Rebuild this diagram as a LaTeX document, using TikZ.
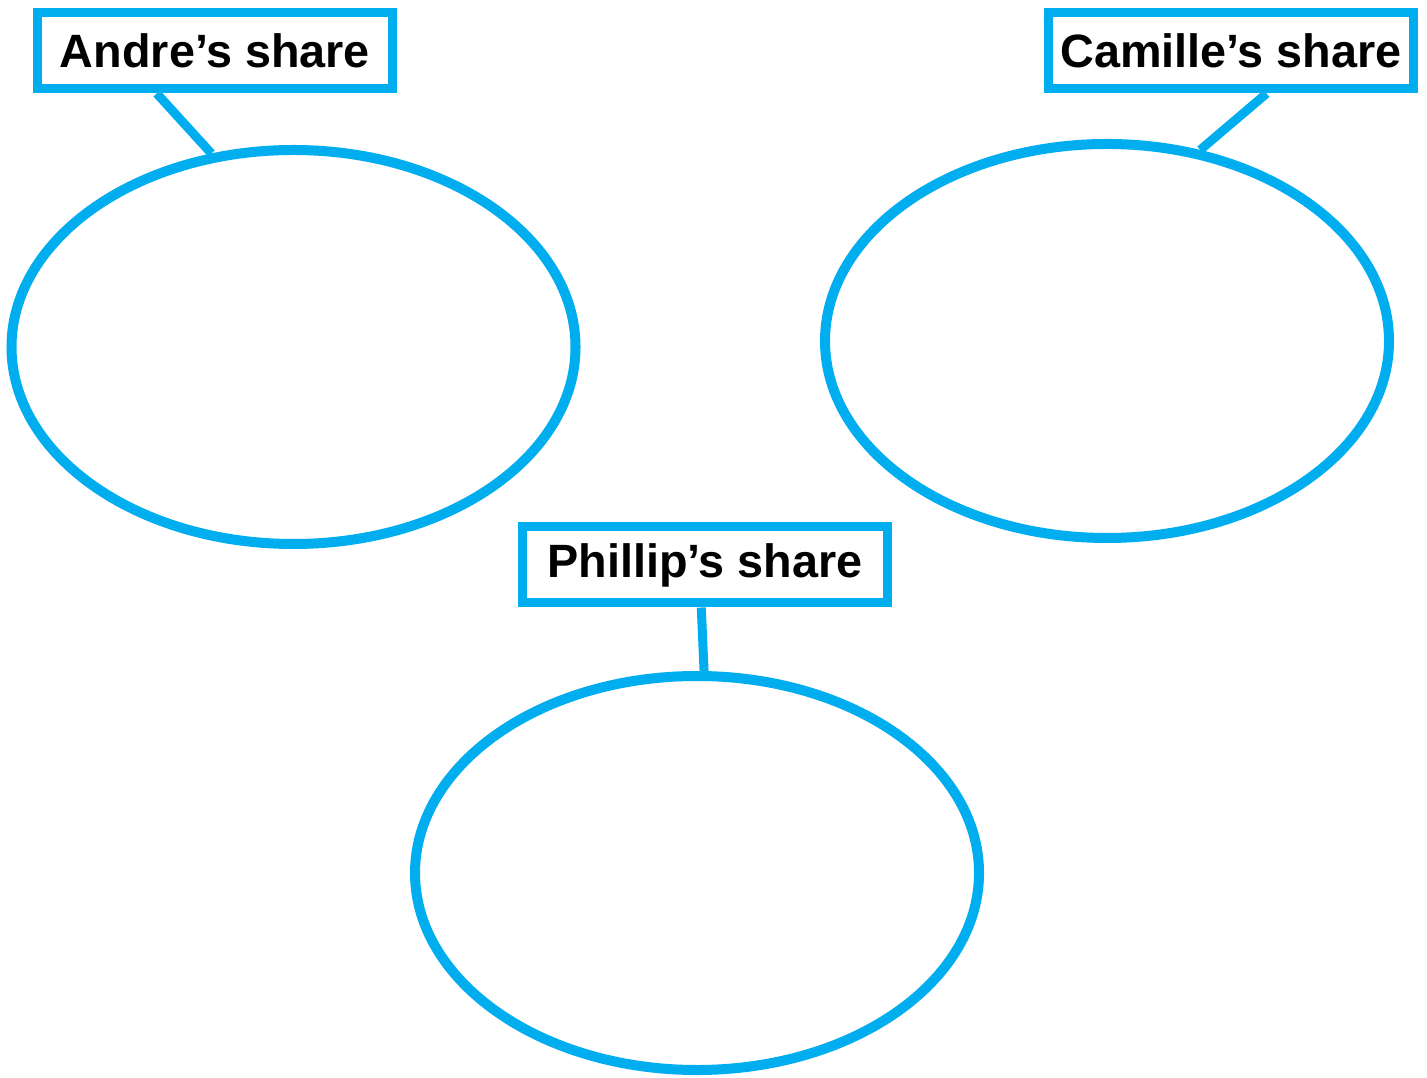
\documentclass[tikz,border=0pt]{standalone}
\usepackage{fontspec}
\setmainfont{Liberation Sans}
\usetikzlibrary{calc,shapes.geometric}
\definecolor{sharecyan}{HTML}{00AEEF}

\begin{document}
\begin{tikzpicture}[auto,
		sharebox/.style={draw=sharecyan, line width=0.09cm, rectangle, minimum height=0.76cm, inner sep=0pt, font=\fontsize{13.3}{15}\selectfont\bfseries},
		sharepot/.style={draw=sharecyan, line width=0.1cm, ellipse, minimum width=5.64cm, minimum height=3.94cm, inner sep=0pt},
		shareline/.style={draw=sharecyan, line width=0.09cm}]
	\useasboundingbox (0,0) rectangle (14.27,10.77);

	% Andre
	\node[sharepot] (andre) at (2.935,7.30) {};
	\node[sharebox, minimum width=3.55cm] (andrebox) at (2.15,10.26) {Andre’s share};
	\draw[shareline] ($(andrebox.south west)!0.34!(andrebox.south east)$) -- (andre.113);

	% Camille
	\node[sharepot] (camille) at (11.07,7.36) {};
	\node[sharebox, minimum width=3.65cm] (camillebox) at (12.31,10.26) {Camille’s share};
	\draw[shareline] ($(camillebox.south west)!0.595!(camillebox.south east)$) -- (camille.64);

	% Phillip
	\node[sharepot] (phillip) at (6.97,2.04) {};
	\node[sharebox, minimum width=3.65cm] (phillipbox) at (7.05,5.12) {Phillip’s share};
	\draw[shareline] ($(phillipbox.south west)!0.49!(phillipbox.south east)$) -- (phillip.88);
\end{tikzpicture}
\end{document}
